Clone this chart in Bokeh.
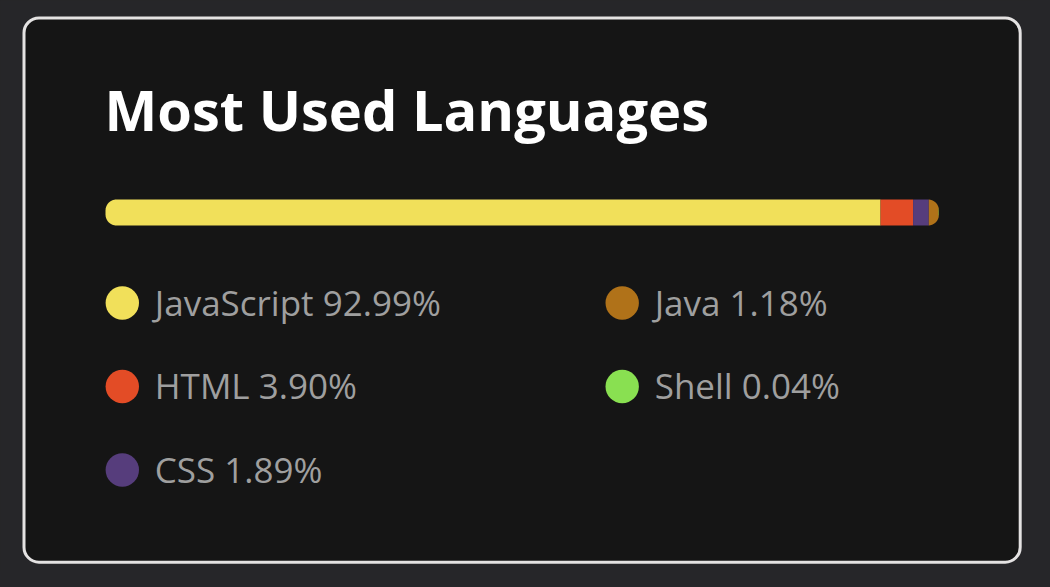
import numpy as np
from bokeh.plotting import figure
from bokeh.models import Range1d, ColumnDataSource, GlobalInlineStyleSheet
from bokeh.core.properties import value
from bokeh.embed import file_html
from bokeh.resources import INLINE

# ---- data ----
languages = ["JavaScript", "HTML", "CSS", "Java", "Shell"]
percents = [92.99, 3.90, 1.89, 1.18, 0.04]
colors = ["#f1e05a", "#e34c26", "#563d7c", "#b07219", "#89e051"]
title = "Most Used Languages"

# ---- styles / layout (screen px) ----
PAGE_BG = "#262629"
CARD_BG = "#151515"
BORDER = "#e4e2e2"
TITLE_COLOR = "#ffffff"
TEXT_COLOR = "#9f9f9f"
FONT = "Open Sans"

W, H = 1034, 571
OFF = 0
p = figure(width=W, height=H, output_backend="svg", toolbar_location=None,
           x_range=Range1d(OFF, OFF + W), y_range=Range1d(OFF + H, OFF),
           min_border=0, outline_line_color=None,
           background_fill_color=PAGE_BG, border_fill_color=PAGE_BG)
p.axis.visible = False
p.grid.visible = False
p.stylesheets = [GlobalInlineStyleSheet(css="body{background:%s;}" % PAGE_BG)]

# card
p.quad(left=[23.5], right=[1019.7], top=[17.5], bottom=[561.7],
       fill_color=CARD_BG, line_color=BORDER, line_width=3, border_radius=15)

# title
p.text(x=[104], y=[108.5], text=[title], text_color=TITLE_COLOR,
       text_font=value(FONT), text_font_style="bold", text_font_size="56px",
       text_baseline="alphabetic", text_align="left")

# progress bar (segments clipped to a rounded rectangle)
BL, BR, BT, BB = 105.0, 938.5, 199.0, 225.0
R = 11.0
total = float(sum(percents))
edges = BL + (BR - BL) * np.concatenate([[0], np.cumsum(percents)]) / total
curve_pts = np.concatenate([np.linspace(BL, BL + R, 50), np.linspace(BR - R, BR, 50)])

def inset(x):
    d = np.zeros_like(x)
    lm = x < BL + R
    rm = x > BR - R
    d[lm] = R - np.sqrt(np.clip(R**2 - (BL + R - x[lm])**2, 0, None))
    d[rm] = R - np.sqrt(np.clip(R**2 - (x[rm] - (BR - R))**2, 0, None))
    return d

xs_list, ys_list = [], []
for i in range(len(percents)):
    x0, x1 = edges[i], edges[i + 1]
    inner = curve_pts[(curve_pts > x0) & (curve_pts < x1)]
    xx = np.unique(np.concatenate([[x0, x1], inner]))
    d = inset(xx)
    top = BT + d
    bot = BB - d
    xs_list.append(list(np.concatenate([xx, xx[::-1]])))
    ys_list.append(list(np.concatenate([top, bot[::-1]])))
p.patches(xs=xs_list, ys=ys_list, fill_color=colors, line_color=None)

# legend (column-major, 3 rows)
rows = 3
col_x = [121.8, 621.7]
row_y0, row_dy = 302.5, 83.5
lx, ly, lt = [], [], []
for i, (name, pct) in enumerate(zip(languages, percents)):
    c, r = divmod(i, rows)
    lx.append(col_x[c])
    ly.append(row_y0 + r * row_dy)
    lt.append(f"{name} {pct:.2f}%")
src = ColumnDataSource(dict(x=lx, y=ly, tx=[v + 32.5 for v in lx],
                            ty=[v - 1.0 for v in ly], t=lt, c=colors))
p.scatter(x="x", y="y", size=33.4, marker="circle", fill_color="c",
          line_color=None, source=src)
p.text(x="tx", y="ty", text="t", source=src, text_color=TEXT_COLOR,
       text_font=value(FONT), text_font_size="35px",
       text_baseline="alphabetic", text_align="left")

open("out.html", "w").write(file_html(p, INLINE))
